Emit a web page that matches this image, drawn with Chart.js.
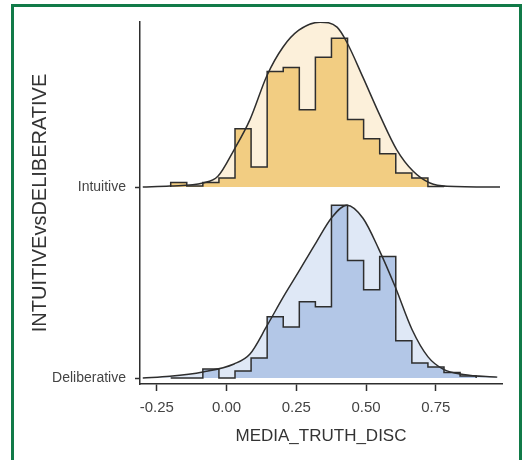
<!DOCTYPE html>
<html lang="en">
<head>
    <meta charset="UTF-8">
    <title>MEDIA_TRUTH_DISC ridges</title>
    <script src="https://cdn.jsdelivr.net/npm/chart.js"></script>
    <style>
        body {
            margin: 0;
            background-color: #fff;
            font-family: 'Liberation Sans', Arial, sans-serif;
        }

        .frame {
            position: absolute;
            left: 11px;
            top: 4px;
            width: 511px;
            height: 480px;
            border: 3px solid #117a48;
            box-sizing: border-box;
        }

        canvas {
            position: absolute;
            left: 0;
            top: 0;
        }
    </style>
</head>
<body>
    <div class="frame"></div>
    <canvas id="ridges" width="522" height="460"></canvas>
    <script>
        // groups, bottom to top (row 0 = Deliberative)
        const groups = ['Deliberative', 'Intuitive'];
        const xTicks = [-0.25, 0, 0.25, 0.5, 0.75];

        // histogram bins
        const binStart = -0.2;
        const binWidth = 0.0576;
        const intuitiveBins = [0.024, 0.005, 0.024, 0.047, 0.305, 0.105, 0.605, 0.626, 0.405,
            0.679, 0.779, 0.353, 0.253, 0.174, 0.074, 0.047, 0.003];
        const deliberativeBins = [0, 0, 0.047, 0, 0.037, 0.105, 0.321, 0.268, 0.4, 0.374,
            0.905, 0.616, 0.463, 0.637, 0.195, 0.079, 0.058, 0.029, 0.011];

        // density curves
        const intuitiveDensX = [-0.30, -0.203, -0.085, -0.031, 0.027, 0.084, 0.145, 0.202, 0.259,
            0.335, 0.396, 0.431, 0.489, 0.55, 0.61, 0.668, 0.729, 0.79, 0.98];
        const intuitiveDensY = [0, 0.005, 0.021, 0.056, 0.195, 0.353, 0.584, 0.732, 0.821,
            0.863, 0.837, 0.758, 0.574, 0.374, 0.195, 0.084, 0.021, 0.004, 0];
        const deliberativeDensX = [-0.30, -0.203, -0.085, 0.027, 0.084, 0.145, 0.202, 0.259, 0.317,
            0.378, 0.431, 0.489, 0.546, 0.604, 0.665, 0.722, 0.776, 0.848, 0.97];
        const deliberativeDensY = [0, 0.009, 0.032, 0.074, 0.126, 0.274, 0.421, 0.558, 0.7,
            0.842, 0.905, 0.837, 0.674, 0.479, 0.253, 0.111, 0.047, 0.019, 0.005];

        const lineColor = '#2e2e2e';

        function stepPoints(bins, base) {
            const pts = [{ x: binStart, y: base }];
            bins.forEach((h, i) => pts.push({ x: binStart + i * binWidth, y: base + h }));
            pts.push({ x: binStart + bins.length * binWidth, y: base });
            return pts;
        }

        function densPoints(xs, ys, base) {
            return xs.map((x, i) => ({ x: x, y: base + ys[i] }));
        }

        function ridge(bins, dx, dy, base, barColor, densColor) {
            return [
                {
                    data: densPoints(dx, dy, base),
                    borderColor: lineColor,
                    borderWidth: 1.5,
                    fill: false,
                    cubicInterpolationMode: 'monotone',
                    order: 0
                },
                {
                    // horizontal first, then vertical: each bar spans [edge i, edge i+1]
                    data: stepPoints(bins, base),
                    stepped: 'before',
                    borderColor: lineColor,
                    borderWidth: 1.5,
                    backgroundColor: barColor,
                    fill: { value: base },
                    order: 1
                },
                {
                    data: densPoints(dx, dy, base),
                    borderWidth: 0,
                    borderColor: 'rgba(0,0,0,0)',
                    backgroundColor: densColor,
                    fill: { value: base },
                    cubicInterpolationMode: 'monotone',
                    order: 2
                }
            ];
        }

        const datasets = [].concat(
            ridge(intuitiveBins, intuitiveDensX, intuitiveDensY, 1, '#f2cd82', '#fcf0da'),
            ridge(deliberativeBins, deliberativeDensX, deliberativeDensY, 0, '#b3c7e7', '#dfe8f6')
        );

        const ctx = document.getElementById('ridges').getContext('2d');
        new Chart(ctx, {
            type: 'line',
            data: { datasets: datasets },
            options: {
                responsive: false,
                animation: false,
                layout: { padding: { top: 22, right: 20, left: 0, bottom: 0 } },
                elements: { point: { radius: 0 } },
                plugins: {
                    legend: { display: false },
                    tooltip: { enabled: false }
                },
                scales: {
                    x: {
                        type: 'linear',
                        min: -0.31,
                        max: 0.987,
                        afterBuildTicks: axis => { axis.ticks = xTicks.map(v => ({ value: v })); },
                        afterFit: axis => { axis.height = 76; },
                        ticks: {
                            color: '#444',
                            font: { family: 'Liberation Sans', size: 15 },
                            padding: 8,
                            maxRotation: 0,
                            callback: v => v.toFixed(2)
                        },
                        grid: { drawOnChartArea: false, color: lineColor, tickLength: 7, tickWidth: 1.5 },
                        border: { color: lineColor, width: 1.5 },
                        title: {
                            display: true,
                            text: 'MEDIA_TRUTH_DISC',
                            color: '#333',
                            font: { family: 'Liberation Sans', size: 17 },
                            padding: { top: 0, bottom: 13 }
                        }
                    },
                    y: {
                        type: 'linear',
                        min: -0.031,
                        max: 1.864,
                        afterBuildTicks: axis => { axis.ticks = groups.map((g, i) => ({ value: i })); },
                        afterFit: axis => { axis.width = 140; },
                        ticks: {
                            color: '#444',
                            font: { family: 'Liberation Sans', size: 14 },
                            padding: 9,
                            callback: v => groups[v]
                        },
                        grid: { drawOnChartArea: false, color: lineColor, tickLength: 5, tickWidth: 1.5 },
                        border: { color: lineColor, width: 1.5 },
                        title: {
                            display: true,
                            text: 'INTUITIVEvsDELIBERATIVE',
                            color: '#333',
                            font: { family: 'Liberation Sans', size: 20 },
                            padding: { top: 28, bottom: 0 }
                        }
                    }
                }
            }
        });
    </script>
</body>
</html>
